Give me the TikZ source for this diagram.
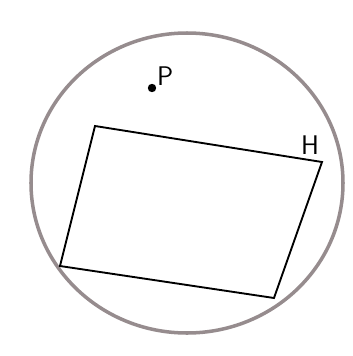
\documentclass[tikz,border=0pt]{standalone}
\usepackage{fontspec}
\usepackage{tikz}
\usetikzlibrary{positioning}
\definecolor{rimgray}{RGB}{150,140,142}
\tikzset{
    rim/.style={draw=rimgray, line width=3pt},
    plane/.style={draw=black, line width=1.6pt, line join=miter},
    lbl/.style={font=\sffamily\fontsize{23}{23}\selectfont, inner sep=0pt}
}

\begin{document}
\begin{tikzpicture}[x=0.03cm, y=-0.03cm]
    \useasboundingbox (0,0) rectangle (352,356);

    % sphere
    \draw[rim] (187,183) ellipse [x radius=156, y radius=150];

    % plane H
    \coordinate (h1) at (95,126);
    \coordinate (h2) at (322,162);
    \coordinate (h3) at (274,298);
    \coordinate (h4) at (60,266);
    \draw[plane] (h1) -- (h2) -- (h3) -- (h4) -- cycle;
    \node[lbl] (hlab) at (310,145) {H};

    % point P
    \fill (152,88) circle [radius=4.2] coordinate (p);
    \node[lbl, anchor=south west] (plab) at (157,86) {P};
\end{tikzpicture}
\end{document}
